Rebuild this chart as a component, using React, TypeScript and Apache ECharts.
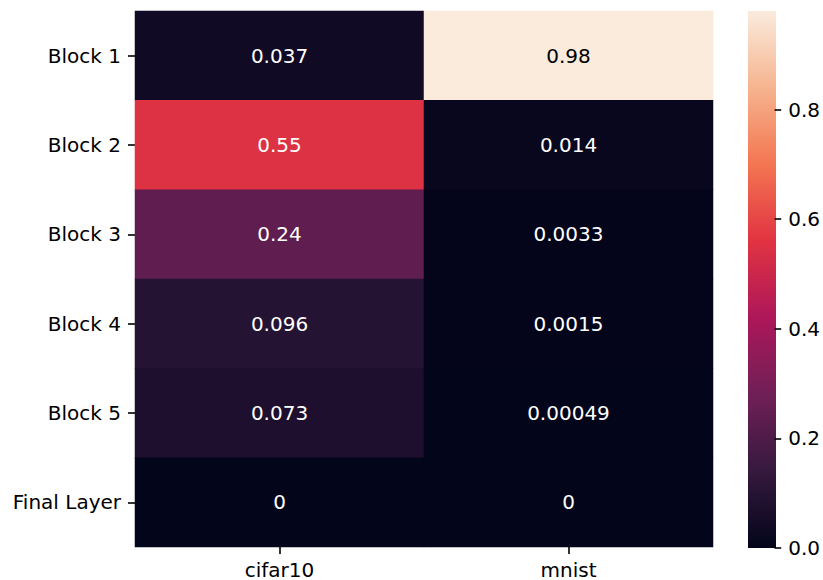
import React, { useEffect, useRef } from "react";
import * as echarts from "echarts";

// Layer-wise scores per dataset
const blocks = ["Block 1", "Block 2", "Block 3", "Block 4", "Block 5", "Final Layer"];
const datasets = ["cifar10", "mnist"];
const cifar10Values = [0.037, 0.55, 0.24, 0.096, 0.073, 0];
const mnistValues = [0.98, 0.014, 0.0033, 0.0015, 0.00049, 0];
const colorbarTicks = [0, 0.2, 0.4, 0.6, 0.8];

// "rocket" colormap sampled at evenly spaced positions
const rocketStops = [
  "#03051A",
  "#35193E",
  "#701F57",
  "#AD1759",
  "#E13342",
  "#F37651",
  "#F6B48F",
  "#FAEBDD",
];

const FONT = "DejaVu Sans";

function hexToRgb(h: string): number[] {
  const n = parseInt(h.slice(1), 16);
  return [(n >> 16) & 255, (n >> 8) & 255, n & 255];
}

function sampleRocket(t: number): number[] {
  const c = Math.max(0, Math.min(1, t)) * (rocketStops.length - 1);
  const i = Math.min(rocketStops.length - 2, Math.floor(c));
  const f = c - i;
  const a = hexToRgb(rocketStops[i]);
  const b = hexToRgb(rocketStops[i + 1]);
  return a.map((v, k) => v + (b[k] - v) * f);
}

function luminance(rgb: number[]): number {
  const lin = rgb.map((v) => {
    const s = v / 255;
    return s <= 0.03928 ? s / 12.92 : Math.pow((s + 0.055) / 1.055, 2.4);
  });
  return 0.2126 * lin[0] + 0.7152 * lin[1] + 0.0722 * lin[2];
}

// two significant digits, like "%.2g"
function fmt(v: number): string {
  return String(Number(v.toPrecision(2)));
}

export default function App() {
  const ref = useRef<HTMLDivElement>(null);

  useEffect(() => {
    if (!ref.current) return;
    const chart = echarts.init(ref.current, undefined, { renderer: "svg" });

    const columns = [cifar10Values, mnistValues];
    const vmax = Math.max(...cifar10Values, ...mnistValues);

    const data: any[] = [];
    columns.forEach((col, xi) => {
      col.forEach((v, yi) => {
        const lum = luminance(sampleRocket(v / vmax));
        data.push({
          value: [xi, yi, v],
          label: { color: lum > 0.408 ? "#000000" : "#ffffff" },
        });
      });
    });

    const plotLeft = 135;
    const plotTop = 11;
    const plotWidth = 578;
    const plotHeight = 537;
    const cbLeft = 748;
    const cbWidth = 28;
    const tickLen = 7;

    const tickStyle = { color: "#000000", width: 1.6 };
    const labelStyle = { color: "#000000", fontSize: 20, fontFamily: FONT };

    // colorbar grid spans the bar plus its tick marks: x in [0, 1] is the bar,
    // (1, 1 + tickLen / cbWidth] holds the ticks
    const tickSpan = tickLen / cbWidth;

    chart.setOption({
      animation: false,
      backgroundColor: "#ffffff",
      textStyle: { fontFamily: FONT },
      grid: [
        { left: plotLeft, top: plotTop, width: plotWidth, height: plotHeight },
        { left: cbLeft, top: plotTop, width: cbWidth + tickLen, height: plotHeight },
      ],
      xAxis: [
        {
          type: "category",
          gridIndex: 0,
          data: datasets,
          axisLine: { show: false },
          axisTick: { show: true, alignWithLabel: true, length: tickLen, lineStyle: tickStyle },
          axisLabel: { ...labelStyle, lineHeight: 20, margin: 13 },
          splitLine: { show: false },
        },
        {
          type: "value",
          gridIndex: 1,
          show: false,
          min: 0,
          max: 1 + tickSpan,
        },
      ],
      yAxis: [
        {
          type: "category",
          gridIndex: 0,
          data: blocks,
          inverse: true,
          axisLine: { show: false },
          axisTick: { show: true, alignWithLabel: true, length: tickLen, lineStyle: tickStyle },
          axisLabel: { ...labelStyle, margin: 14 },
          splitLine: { show: false },
        },
        {
          type: "value",
          gridIndex: 1,
          position: "right",
          min: 0,
          max: vmax,
          axisLine: { show: false },
          axisTick: { show: false },
          axisLabel: {
            ...labelStyle,
            margin: 7,
            customValues: colorbarTicks,
            formatter: (v: number) => v.toFixed(1),
          },
          splitLine: { show: false },
        },
      ],
      visualMap: {
        show: false,
        type: "continuous",
        min: 0,
        max: vmax,
        seriesIndex: 0,
        dimension: 2,
        inRange: { color: rocketStops },
      },
      graphic: [
        {
          type: "rect",
          left: cbLeft,
          top: plotTop,
          shape: { width: cbWidth, height: plotHeight },
          style: {
            fill: new echarts.graphic.LinearGradient(
              0,
              0,
              0,
              1,
              rocketStops
                .map((c, i) => ({ offset: 1 - i / (rocketStops.length - 1), color: c }))
                .reverse()
            ),
          },
          z: -1,
        },
      ],
      series: [
        {
          type: "heatmap",
          xAxisIndex: 0,
          yAxisIndex: 0,
          data,
          label: {
            show: true,
            fontSize: 20,
            fontFamily: FONT,
            formatter: (p: any) => fmt(p.value[2]),
          },
          itemStyle: { borderWidth: 0 },
          emphasis: { disabled: true },
        },
        {
          type: "line",
          xAxisIndex: 1,
          yAxisIndex: 1,
          data: [],
          silent: true,
          markLine: {
            silent: true,
            symbol: ["none", "none"],
            label: { show: false },
            lineStyle: { type: "solid", color: "#000000", width: 1.6 },
            emphasis: { disabled: true },
            data: colorbarTicks.map((t) => [
              { coord: [1, t] },
              { coord: [1 + tickSpan, t] },
            ]),
          },
        },
      ],
    });

    return () => chart.dispose();
  }, []);

  return (
    <div
      ref={ref}
      style={{ position: "fixed", left: 0, top: 0, width: 823, height: 580 }}
    />
  );
}
